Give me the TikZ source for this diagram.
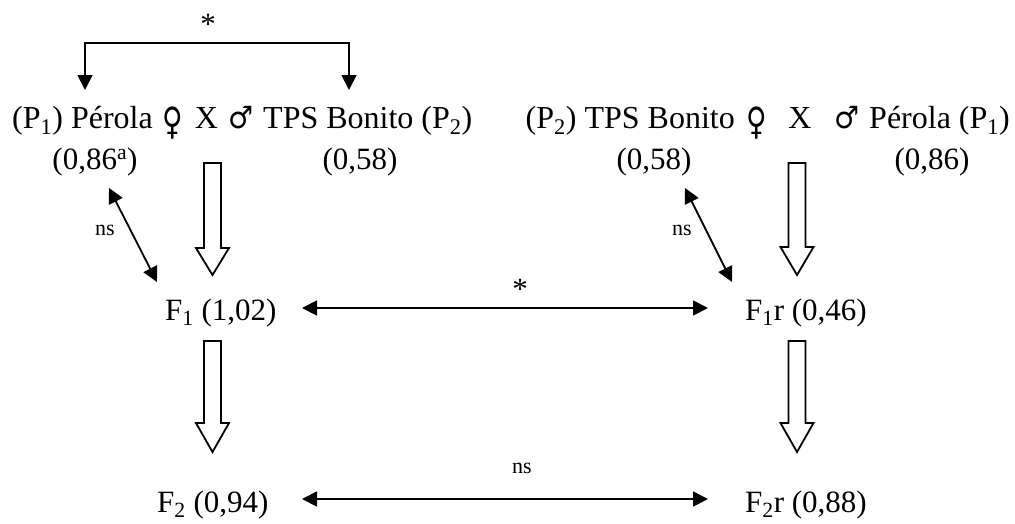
\documentclass[tikz,border=0pt]{standalone}
\usepackage{fontspec}
\setmainfont{Liberation Serif}
\newfontfamily\symfont{DejaVu Sans}
\usetikzlibrary{arrows.meta}
\tikzset{
  big/.style={inner sep=0pt, font=\fontsize{31}{37}\selectfont},
  top/.style={inner sep=0pt, anchor=base west, font=\fontsize{32}{38}\selectfont},
  sym/.style={inner sep=0pt, anchor=base, font=\symfont\fontsize{28}{32}\selectfont},
  small/.style={inner sep=0pt, font=\fontsize{22}{26}\selectfont},
  link/.style={line width=1.8pt, {Triangle[length=15pt,width=15pt]}-{Triangle[length=15pt,width=15pt]}},
  bracket/.style={line width=1.8pt, -{Triangle[length=15pt,width=15pt]}},
  hollow/.style={draw=black, line width=1.8pt, fill=white, line join=miter}
}
\newcommand\hollowarrow[4]{% center x, top y, head start y, tip y
  \draw[hollow] (#1-8.5,#2) -- (#1+8.5,#2) -- (#1+8.5,#3) -- (#1+16.5,#3) -- (#1,#4)
    -- (#1-16.5,#3) -- (#1-8.5,#3) -- cycle;}
\newcommand\fem{\raisebox{-6pt}{\scalebox{1}[1.35]{♀}}}
\newcommand\mal{\scalebox{1}[1.1]{♂}}
\begin{document}
\begin{tikzpicture}[x=1pt,y=-1pt]
\useasboundingbox (0,0) rectangle (1015,523);
% top row, left cross
\node[top] (L1a) at (12,128) {(P\textsubscript{1}) Pérola};
\node[sym] (L1f) at (172.5,128) {\fem};
\node[top, anchor=base] (L1x) at (206.5,128) {X};
\node[sym] (L1m) at (241,128) {\mal};
\node[top] (L1b) at (263,128) {TPS Bonito (P\textsubscript{2})};
% top row, right cross
\node[top, anchor=base east] (R1a) at (735,128) {(P\textsubscript{2}) TPS Bonito};
\node[sym] (R1f) at (756.5,128) {\fem};
\node[top, anchor=base] (R1x) at (800,128) {X};
\node[sym] (R1m) at (847,128) {\mal};
\node[top] (R1b) at (869,128) {Pérola (P\textsubscript{1})};
% second row
\node[big, anchor=base] (L2a) at (95,169) {(0,86\textsuperscript{a})};
\node[big, anchor=base] (L2b) at (360,169) {(0,58)};
\node[big, anchor=base] (R2a) at (654,169) {(0,58)};
\node[big, anchor=base] (R2b) at (932,169) {(0,86)};
% F rows
\node[big, anchor=base west] (F1) at (165,320) {F\textsubscript{1} (1,02)};
\node[big, anchor=base west] (F1r) at (745,320) {F\textsubscript{1}r (0,46)};
\node[big, anchor=base west] (F2) at (157,512) {F\textsubscript{2} (0,94)};
\node[big, anchor=base west] (F2r) at (745,512) {F\textsubscript{2}r (0,88)};
% labels
\node[big, anchor=base] (s1) at (208,34) {*};
\node[big, anchor=base] (s2) at (520,299) {*};
\node[small] (ns1) at (105,230) {ns};
\node[small] (ns2) at (682,230) {ns};
\node[small] (ns3) at (522,468) {ns};
% coordinates
\coordinate (bA) at (85,90);
\coordinate (bB) at (349,90);
\coordinate (bT) at (217,43);
\coordinate (dL1) at (109,188);
\coordinate (dL2) at (157,282);
\coordinate (dR1) at (685,188);
\coordinate (dR2) at (732,282);
\coordinate (h1a) at (302,308);
\coordinate (h1b) at (708,308);
\coordinate (h2a) at (302,499);
\coordinate (h2b) at (708,499);
% connectors
\draw[bracket] (bT) -| (bA);
\draw[bracket] (bT) -| (bB);
\draw[link] (dL1) -- (dL2);
\draw[link] (dR1) -- (dR2);
\draw[link] (h1a) -- (h1b);
\draw[link] (h2a) -- (h2b);
% hollow arrows
\hollowarrow{212.5}{163}{248}{275}
\hollowarrow{797}{163}{247}{275}
\hollowarrow{212.5}{341}{423}{452}
\hollowarrow{797}{341}{423}{452}
\end{tikzpicture}
\end{document}
